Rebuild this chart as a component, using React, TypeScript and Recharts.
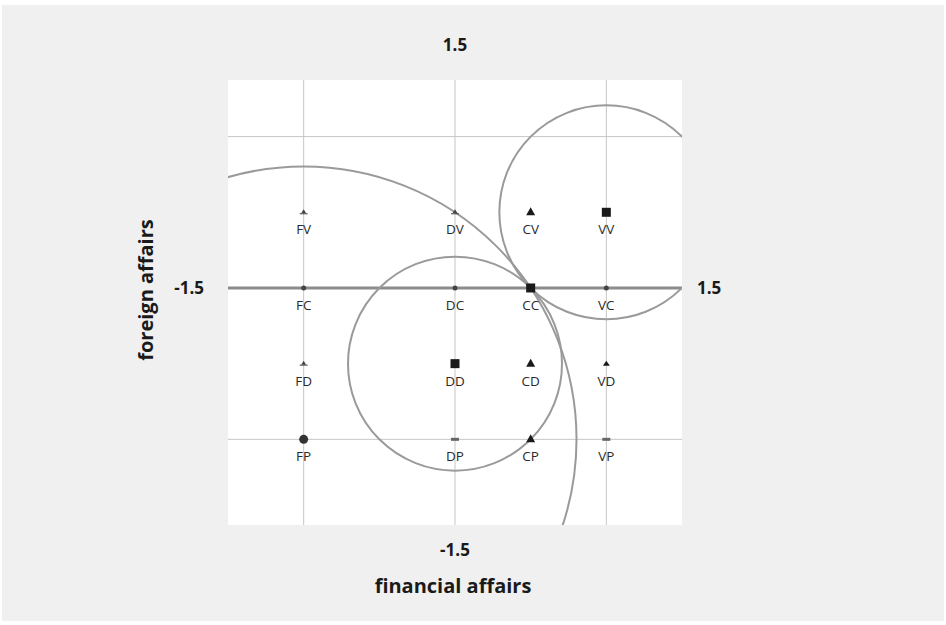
import React from 'react';
import { ScatterChart, Scatter, XAxis, YAxis, ReferenceLine, ReferenceDot, CartesianGrid, Customized, Label } from 'recharts';

// ---- data ----
const pointNames = ['FV', 'DV', 'CV', 'VV', 'FC', 'DC', 'CC', 'VC', 'FD', 'DD', 'CD', 'VD', 'FP', 'DP', 'CP', 'VP'];
const financialValues = [-1, 0, 0.5, 1, -1, 0, 0.5, 1, -1, 0, 0.5, 1, -1, 0, 0.5, 1];
const foreignValues = [0.5, 0.5, 0.5, 0.5, 0, 0, 0, 0, -0.5, -0.5, -0.5, -0.5, -1, -1, -1, -1];
const markerKinds = ['tiny', 'tiny', 'triangle', 'square', 'dot', 'dot', 'square', 'dot', 'tiny', 'square', 'triangle', 'smalltri', 'circle', 'dash', 'triangle', 'dash'];

const circleCenterX = [-1, 0, 1];
const circleCenterY = [-1, -0.5, 0.5];
const circleRadius = [1.803, 0.707, 0.707];

const gridX = [-1, 0, 1];
const gridY = [1, -1];
const xDomain = [-1.5, 1.5];
const yDomain = [-1.566, 1.374];
const axisEndLabels = ['-1.5', '1.5'];

// ---- layout ----
const W = 946;
const H = 625;
const margin = { top: 80, right: 264, bottom: 100, left: 228 };
const plotW = W - margin.left - margin.right;
const pxPerUnit = plotW / (xDomain[1] - xDomain[0]);

const points = pointNames.map((name, i) => ({
  name,
  x: financialValues[i],
  y: foreignValues[i],
  kind: markerKinds[i],
}));

const FONT = '"Open Sans", "DejaVu Sans", sans-serif';
const INK = '#1a1a1a';

const PointShape = (props: any) => {
  const { cx, cy, payload } = props;
  if (cx == null || cy == null) return null;
  const kind = payload.kind;
  let mark: any = null;
  if (kind === 'square') {
    mark = <rect x={cx - 4.5} y={cy - 4.5} width={9} height={9} fill={INK} />;
  } else if (kind === 'triangle') {
    mark = <path d={`M${cx},${cy - 5} L${cx + 4.5},${cy + 3} L${cx - 4.5},${cy + 3} Z`} fill={INK} />;
  } else if (kind === 'smalltri') {
    mark = <path d={`M${cx},${cy - 3} L${cx + 3.5},${cy + 2} L${cx - 3.5},${cy + 2} Z`} fill={INK} />;
  } else if (kind === 'circle') {
    mark = <circle cx={cx} cy={cy} r={4.5} fill="#333" />;
  } else if (kind === 'dash') {
    mark = <rect x={cx - 4} y={cy - 1.5} width={8} height={3} fill="#666" />;
  } else if (kind === 'tiny') {
    mark = (
      <g>
        <path d={`M${cx},${cy - 3} L${cx + 2.5},${cy + 1} L${cx - 2.5},${cy + 1} Z`} fill="#444" />
        <line x1={cx - 4} y1={cy + 1.5} x2={cx + 4} y2={cy + 1.5} stroke="#444" strokeWidth={1} />
      </g>
    );
  } else {
    mark = <circle cx={cx} cy={cy} r={2.5} fill="#444" />;
  }
  return (
    <g>
      {mark}
      <text
        x={cx}
        y={cy + 17}
        textAnchor="middle"
        dominantBaseline="central"
        fontFamily={FONT}
        fontSize={13.5}
        fill="#2a2a2a"
      >
        {payload.name}
      </text>
    </g>
  );
};

const Titles = () => (
  <g fontFamily={FONT} fill={INK}>
    <text x={453} y={593} textAnchor="middle" fontSize={20} fontWeight="bold" fill={INK}>
      financial affairs
    </text>
    <text
      x={145}
      y={290}
      textAnchor="middle"
      dominantBaseline="central"
      fontSize={20}
      fontWeight="bold"
      fill={INK}
      transform="rotate(-90 145 290)"
    >
      foreign affairs
    </text>
  </g>
);

const endLabel = (value: string, position: any, offset: number) => (
  <Label
    value={value}
    position={position}
    offset={offset}
    style={{ fontFamily: FONT, fontSize: 17, fontWeight: 'bold', fill: INK }}
  />
);

export default function App() {
  return (
    <div style={{ position: 'absolute', left: 0, top: 0, width: W, height: H, background: '#ffffff' }}>
      <div style={{ position: 'absolute', left: 2, top: 5, width: W - 4, height: H - 9, background: '#f0f0f0' }} />
      <div style={{ position: 'absolute', left: 0, top: 0 }}>
        <ScatterChart width={W} height={H} margin={margin}>
          <CartesianGrid horizontal={false} vertical={false} fill="#ffffff" />
          <XAxis type="number" dataKey="x" domain={xDomain} hide allowDataOverflow />
          <YAxis type="number" dataKey="y" domain={yDomain} hide allowDataOverflow />
          {gridX.map((v) => (
            <ReferenceLine key={'gx' + v} x={v} stroke="#c6c6c6" strokeWidth={1} ifOverflow="hidden">
              {v === 0 ? endLabel(axisEndLabels[1], 'top', 29) : null}
              {v === 0 ? endLabel(axisEndLabels[0], 'bottom', 19) : null}
            </ReferenceLine>
          ))}
          {gridY.map((v) => (
            <ReferenceLine key={'gy' + v} y={v} stroke="#c6c6c6" strokeWidth={1} ifOverflow="hidden" />
          ))}
          <ReferenceLine y={0} stroke="#8c8c8c" strokeWidth={3}>
            {endLabel(axisEndLabels[0], 'left', 24)}
            {endLabel(axisEndLabels[1], 'right', 15)}
          </ReferenceLine>
          {circleRadius.map((r, i) => (
            <ReferenceDot
              key={'c' + i}
              x={circleCenterX[i]}
              y={circleCenterY[i]}
              r={r * pxPerUnit}
              fill="none"
              stroke="#9a9a9a"
              strokeWidth={2}
              ifOverflow="hidden"
            />
          ))}
          <Scatter data={points} shape={<PointShape />} isAnimationActive={false} />
          <Customized component={<Titles />} />
        </ScatterChart>
      </div>
    </div>
  );
}
